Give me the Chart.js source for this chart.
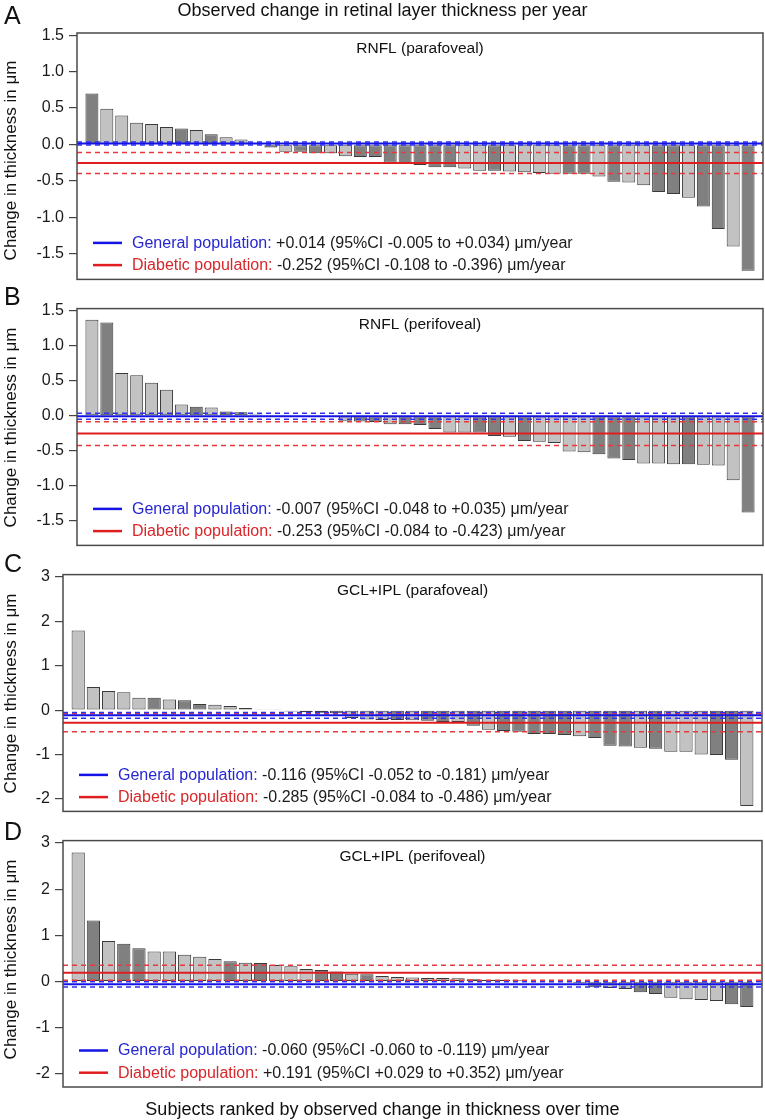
<!DOCTYPE html>
<html>
<head>
<meta charset="utf-8">
<script src="https://cdn.jsdelivr.net/npm/chart.js@4.4.1/dist/chart.umd.min.js"></script>
<style>
  body { margin: 0; background: #fff; font-family: "Liberation Sans", Arial, sans-serif; }
  #wrap { position: relative; width: 765px; height: 1120px; overflow: hidden; }
  .pane { position: absolute; left: 0; width: 765px; }
  .txt { position: absolute; color: #111; white-space: nowrap; }
  .ytitle { position: absolute; width: 280px; text-align: center; font-size: 17px; line-height: 17px;
            color: #111; transform: rotate(-90deg); white-space: nowrap; }
</style>
</head>
<body>
<div id="wrap">
  <div class="pane" style="top:0;height:294px"><canvas id="cA" width="765" height="294"></canvas></div>
  <div class="pane" style="top:294px;height:266px"><canvas id="cB" width="765" height="266"></canvas></div>
  <div class="pane" style="top:560px;height:266px"><canvas id="cC" width="765" height="266"></canvas></div>
  <div class="pane" style="top:826px;height:294px"><canvas id="cD" width="765" height="294"></canvas></div>

  <div class="txt" style="left:0;width:765px;text-align:center;top:1px;font-size:18px;line-height:18px">Observed change in retinal layer thickness per year</div>
  <div class="txt" style="left:0;width:765px;text-align:center;top:1100px;font-size:18px;line-height:18px">Subjects ranked by observed change in thickness over time</div>

  <div class="txt" style="left:4px;top:3px;font-size:25px;line-height:25px">A</div>
  <div class="txt" style="left:4px;top:284px;font-size:25px;line-height:25px">B</div>
  <div class="txt" style="left:4px;top:551px;font-size:25px;line-height:25px">C</div>
  <div class="txt" style="left:4px;top:819px;font-size:25px;line-height:25px">D</div>

  <div class="ytitle" style="left:-130px;top:152px">Change in thickness in μm</div>
  <div class="ytitle" style="left:-130px;top:419px">Change in thickness in μm</div>
  <div class="ytitle" style="left:-130px;top:685px">Change in thickness in μm</div>
  <div class="ytitle" style="left:-130px;top:951px">Change in thickness in μm</div>
</div>

<script>
// subjects ranked 1..45 in every panel
const ranks = [1, 2, 3, 4, 5, 6, 7, 8, 9, 10, 11, 12, 13, 14, 15, 16, 17, 18, 19, 20,
  21, 22, 23, 24, 25, 26, 27, 28, 29, 30, 31, 32, 33, 34, 35, 36, 37, 38, 39, 40,
  41, 42, 43, 44, 45];

// A - RNFL (parafoveal)
const valuesA = [0.70, 0.49, 0.40, 0.30, 0.28, 0.24, 0.22, 0.20, 0.14, 0.10,
  0.07, 0.01, -0.04, -0.10, -0.10, -0.12, -0.12, -0.16, -0.17, -0.17,
  -0.25, -0.26, -0.28, -0.31, -0.31, -0.33, -0.36, -0.36, -0.37, -0.38,
  -0.39, -0.40, -0.40, -0.40, -0.44, -0.51, -0.52, -0.56, -0.65, -0.68,
  -0.73, -0.85, -1.16, -1.40, -1.73];
const shadeA = 'DLLLLLDLDLLLLLDDLLDDDDDDDLLDLLLLDDLDLLDDLDDLD';
const generalA = [0.014, -0.005, 0.034];
const diabeticA = [-0.252, -0.108, -0.396];

// B - RNFL (perifoveal)
const valuesB = [1.37, 1.33, 0.61, 0.58, 0.47, 0.37, 0.16, 0.13, 0.12, 0.06,
  0.05, 0.02, 0.01, 0.01, 0.005, -0.005, -0.01, -0.07, -0.08, -0.09,
  -0.12, -0.12, -0.13, -0.19, -0.24, -0.24, -0.24, -0.29, -0.30, -0.36,
  -0.37, -0.39, -0.51, -0.52, -0.55, -0.61, -0.63, -0.68, -0.68, -0.69,
  -0.69, -0.70, -0.71, -0.92, -1.38];
const shadeB = 'LDLLLLLDLDDDDDDDDLDDLDDDLLDDLDLLLLDDDLLLDLLLD';
const generalB = [-0.007, -0.048, 0.035];
const diabeticB = [-0.253, -0.084, -0.423];

// C - GCL+IPL (parafoveal)
const valuesC = [1.79, 0.52, 0.43, 0.40, 0.28, 0.28, 0.24, 0.22, 0.14, 0.12,
  0.09, 0.05, 0.02, 0.01, -0.03, -0.05, -0.06, -0.07, -0.18, -0.21,
  -0.22, -0.22, -0.23, -0.24, -0.27, -0.27, -0.35, -0.44, -0.47, -0.49,
  -0.54, -0.54, -0.56, -0.59, -0.63, -0.80, -0.82, -0.85, -0.87, -0.94,
  -0.94, -1.00, -1.01, -1.12, -2.16];
const shadeC = 'LLLLLDLDDLLLDLDLLDLLLDLDDLDLDDDDDLDDDLDLLLDDL';
const generalC = [-0.116, -0.052, -0.181];
const diabeticC = [-0.285, -0.084, -0.486];

// D - GCL+IPL (perifoveal)
const valuesD = [2.79, 1.32, 0.88, 0.82, 0.72, 0.65, 0.65, 0.58, 0.54, 0.49,
  0.44, 0.41, 0.40, 0.36, 0.33, 0.27, 0.25, 0.22, 0.17, 0.16,
  0.12, 0.10, 0.09, 0.08, 0.08, 0.07, 0.05, 0.04, 0.04, 0.03,
  -0.01, -0.01, -0.02, -0.03, -0.12, -0.14, -0.16, -0.23, -0.27, -0.35,
  -0.38, -0.40, -0.42, -0.49, -0.55];
const shadeD = 'LDLDDLLLLLDLDLLLDDLDLLLLLLLDDDDDDDDLLDDLLLLDD';
const generalD = [-0.060, -0.001, -0.119];
const diabeticD = [0.191, 0.029, 0.352];

const ticksRNFL = [-1.5, -1.0, -0.5, 0.0, 0.5, 1.0, 1.5];
const ticksGCL = [-2, -1, 0, 1, 2, 3];

const LIGHT = '#c2c2c2';
const DARK = '#808080';
const BLUE = '#1414e6';
const RED = '#e01e22';
const RED_DASH = '#e8383c';
const BLUE_DASH = '#3030f0';
const FONT = '"Liberation Sans", Arial, sans-serif';

Chart.defaults.font.family = FONT;

const decoPlugin = {
  id: 'deco',
  afterDatasetsDraw(chart, args, o) {
    const { ctx, chartArea: a, scales: { y } } = chart;
    ctx.save();
    const hline = (v, color, width, dash) => {
      const py = y.getPixelForValue(v);
      ctx.beginPath();
      ctx.setLineDash(dash);
      ctx.lineWidth = width;
      ctx.strokeStyle = color;
      ctx.moveTo(a.left, py);
      ctx.lineTo(a.right, py);
      ctx.stroke();
    };
    hline(o.dia[1], RED_DASH, 1.5, [5, 4]);
    hline(o.dia[2], RED_DASH, 1.5, [5, 4]);
    hline(o.dia[0], RED, 2, []);
    hline(o.gen[1], BLUE_DASH, 1.5, [5, 4]);
    hline(o.gen[2], BLUE_DASH, 1.5, [5, 4]);
    hline(o.gen[0], BLUE, 2, []);

    // frame
    ctx.setLineDash([]);
    ctx.strokeStyle = '#4a4a4a';
    ctx.lineWidth = 1.5;
    ctx.strokeRect(a.left, a.top, a.right - a.left, a.bottom - a.top);

    // panel name
    ctx.fillStyle = '#111';
    ctx.font = '15.5px ' + FONT;
    ctx.textAlign = 'center';
    ctx.textBaseline = 'middle';
    ctx.fillText(o.label, (a.left + a.right) / 2, a.top + 16);

    // legend
    ctx.textAlign = 'left';
    ctx.font = '16px ' + FONT;
    o.legend.forEach((row, i) => {
      const ly = a.bottom - (i === 0 ? 36.5 : 14.3);
      const col = i === 0 ? BLUE : RED;
      ctx.beginPath();
      ctx.strokeStyle = col;
      ctx.lineWidth = 2.5;
      ctx.moveTo(a.left + 16, ly);
      ctx.lineTo(a.left + 45, ly);
      ctx.stroke();
      const tx = a.left + 55;
      ctx.fillStyle = i === 0 ? '#2626d2' : '#d8262a';
      ctx.fillText(row[0], tx, ly + 0.5);
      const w = ctx.measureText(row[0]).width;
      ctx.fillStyle = '#1a1a1a';
      ctx.fillText(row[1], tx + w, ly + 0.5);
    });
    ctx.restore();
  }
};

function panel(id, values, shades, yMin, yMax, tickVals, decimals, axisW, pad, label, gen, dia, legend) {
  const ctx = document.getElementById(id).getContext('2d');
  new Chart(ctx, {
    type: 'bar',
    data: {
      datasets: [{
        data: values.map((v, i) => ({ x: ranks[i], y: v })),
        backgroundColor: shades.split('').map(s => s === 'D' ? DARK : LIGHT),
        borderColor: '#3a3a3a',
        borderWidth: 1,
        borderSkipped: false,
        barPercentage: 0.87,
        categoryPercentage: 1
      }]
    },
    options: {
      responsive: false,
      animation: false,
      layout: { padding: pad },
      plugins: {
        legend: { display: false },
        tooltip: { enabled: false },
        deco: { label, gen, dia, legend }
      },
      scales: {
        x: { type: 'linear', min: 0, max: 46, offset: false, grace: 0, display: false },
        y: {
          min: yMin,
          max: yMax,
          afterFit: s => { s.width = axisW; },
          afterBuildTicks: s => { s.ticks = tickVals.map(v => ({ value: v })); },
          ticks: {
            callback: v => v.toFixed(decimals),
            color: '#1a1a1a',
            font: { size: 16 },
            padding: 5
          },
          grid: { drawOnChartArea: false, drawTicks: true, tickLength: 8, color: '#444', lineWidth: 1.2 },
          border: { display: false }
        }
      }
    },
    plugins: [decoPlugin]
  });
}

panel('cA', valuesA, shadeA, -1.85, 1.53, ticksRNFL, 1, 77, { top: 33, bottom: 6, left: 0, right: 2 },
  'RNFL (parafoveal)', generalA, diabeticA,
  [['General population:', ' +0.014 (95%CI -0.005 to +0.034) μm/year'],
   ['Diabetic population:', ' -0.252 (95%CI -0.108 to -0.396) μm/year']]);

panel('cB', valuesB, shadeB, -1.85, 1.53, ticksRNFL, 1, 77, { top: 6, bottom: 6, left: 0, right: 2 },
  'RNFL (perifoveal)', generalB, diabeticB,
  [['General population:', ' -0.007 (95%CI -0.048 to +0.035) μm/year'],
   ['Diabetic population:', ' -0.253 (95%CI -0.084 to -0.423) μm/year']]);

panel('cC', valuesC, shadeC, -2.28, 3.05, ticksGCL, 0, 63, { top: 6, bottom: 5, left: 0, right: 3 },
  'GCL+IPL (parafoveal)', generalC, diabeticC,
  [['General population:', ' -0.116 (95%CI -0.052 to -0.181) μm/year'],
   ['Diabetic population:', ' -0.285 (95%CI -0.084 to -0.486) μm/year']]);

panel('cD', valuesD, shadeD, -2.28, 3.05, ticksGCL, 0, 63, { top: 6, bottom: 33, left: 0, right: 3 },
  'GCL+IPL (perifoveal)', generalD, diabeticD,
  [['General population:', ' -0.060 (95%CI -0.060 to -0.119) μm/year'],
   ['Diabetic population:', ' +0.191 (95%CI +0.029 to +0.352) μm/year']]);
</script>
</body>
</html>
